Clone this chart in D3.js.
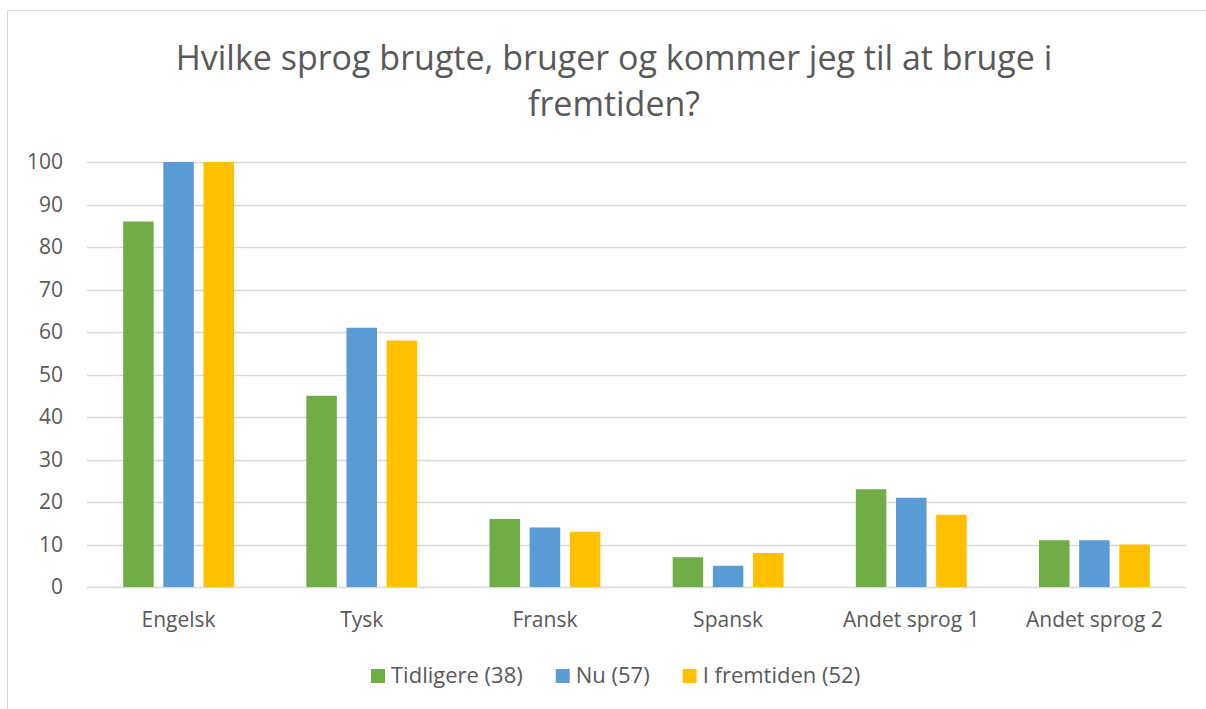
<!DOCTYPE html>
<html>
<head>
<meta charset="utf-8">
<script src="https://cdn.jsdelivr.net/npm/d3@7"></script>
<style>
  body { margin: 0; background: #fff; }
  text { font-family: "Open Sans", "Noto Sans", sans-serif; fill: #595959; }
</style>
</head>
<body>
<svg width="1206" height="709"></svg>
<script>
const categories = ["Engelsk", "Tysk", "Fransk", "Spansk", "Andet sprog 1", "Andet sprog 2"];
const seriesNames = ["Tidligere (38)", "Nu (57)", "I fremtiden (52)"];
const tidligere = [86, 45, 16, 7, 23, 11];
const nu = [100, 61, 14, 5, 21, 11];
const fremtiden = [100, 58, 13, 8, 17, 10];
const yTicks = [0, 10, 20, 30, 40, 50, 60, 70, 80, 90, 100];
const colors = ["#70AD47", "#5B9BD5", "#FFC000"];

const series = [tidligere, nu, fremtiden];

const svg = d3.select("svg");

// chart border (only top and left visible in the picture)
svg.append("path")
    .attr("d", "M7.5,709 L7.5,10.5 L1206,10.5")
    .attr("fill", "none")
    .attr("stroke", "#d9d9d9")
    .attr("stroke-width", 1);

// title
const title = svg.append("text")
    .attr("text-anchor", "middle")
    .attr("font-size", 34);
title.append("tspan").attr("x", 614).attr("y", 70)
    .text("Hvilke sprog brugte, bruger og kommer jeg til at bruge i");
title.append("tspan").attr("x", 614).attr("y", 116)
    .text("fremtiden?");

const margin = { left: 87, right: 1186, top: 162, bottom: 587 };

const x = d3.scaleBand()
    .domain(categories)
    .range([margin.left, margin.right]);

const x1 = d3.scaleBand()
    .domain(d3.range(series.length))
    .range([0, x.bandwidth()])
    .paddingInner(0.24)
    .paddingOuter(0.9);

const y = d3.scaleLinear()
    .domain([0, 100])
    .range([margin.bottom, margin.top]);

// gridlines
svg.append("g")
    .selectAll("line")
    .data(yTicks)
    .join("line")
    .attr("x1", margin.left)
    .attr("x2", margin.right)
    .attr("y1", d => Math.round(y(d)) + 0.5)
    .attr("y2", d => Math.round(y(d)) + 0.5)
    .attr("stroke", "#d9d9d9")
    .attr("stroke-width", 1.5);

// y axis labels
const yAxis = svg.append("g")
    .attr("transform", "translate(" + (margin.left - 24) + ",0)")
    .call(d3.axisLeft(y).tickValues(yTicks).tickSize(0).tickPadding(0));
yAxis.select(".domain").remove();
yAxis.selectAll("text")
    .attr("font-size", 21)
    .attr("fill", "#595959")
    .attr("font-family", "\"Open Sans\", sans-serif");

// bars
const groups = svg.append("g")
    .selectAll("g")
    .data(categories)
    .join("g")
    .attr("transform", d => "translate(" + x(d) + ",0)");

groups.selectAll("rect")
    .data((c, ci) => series.map((s, si) => ({ si: si, v: s[ci] })))
    .join("rect")
    .attr("x", d => x1(d.si))
    .attr("width", x1.bandwidth())
    .attr("y", d => y(d.v))
    .attr("height", d => y(0) - y(d.v))
    .attr("fill", d => colors[d.si]);

// x axis labels
const xAxis = svg.append("g")
    .attr("transform", "translate(0," + margin.bottom + ")")
    .call(d3.axisBottom(x).tickSize(0).tickPadding(25));
xAxis.select(".domain").remove();
xAxis.selectAll("text")
    .attr("font-size", 21)
    .attr("fill", "#595959")
    .attr("font-family", "\"Open Sans\", sans-serif");

// legend
const legend = svg.append("g");
let lx = 371;
seriesNames.forEach(function(name, i) {
  legend.append("rect")
      .attr("x", lx)
      .attr("y", 669)
      .attr("width", 14)
      .attr("height", 14)
      .attr("fill", colors[i]);
  const t = legend.append("text")
      .attr("x", lx + 20)
      .attr("y", 683)
      .attr("font-size", 22)
      .text(name);
  lx += 20 + t.node().getComputedTextLength() + 33;
});
</script>
</body>
</html>
